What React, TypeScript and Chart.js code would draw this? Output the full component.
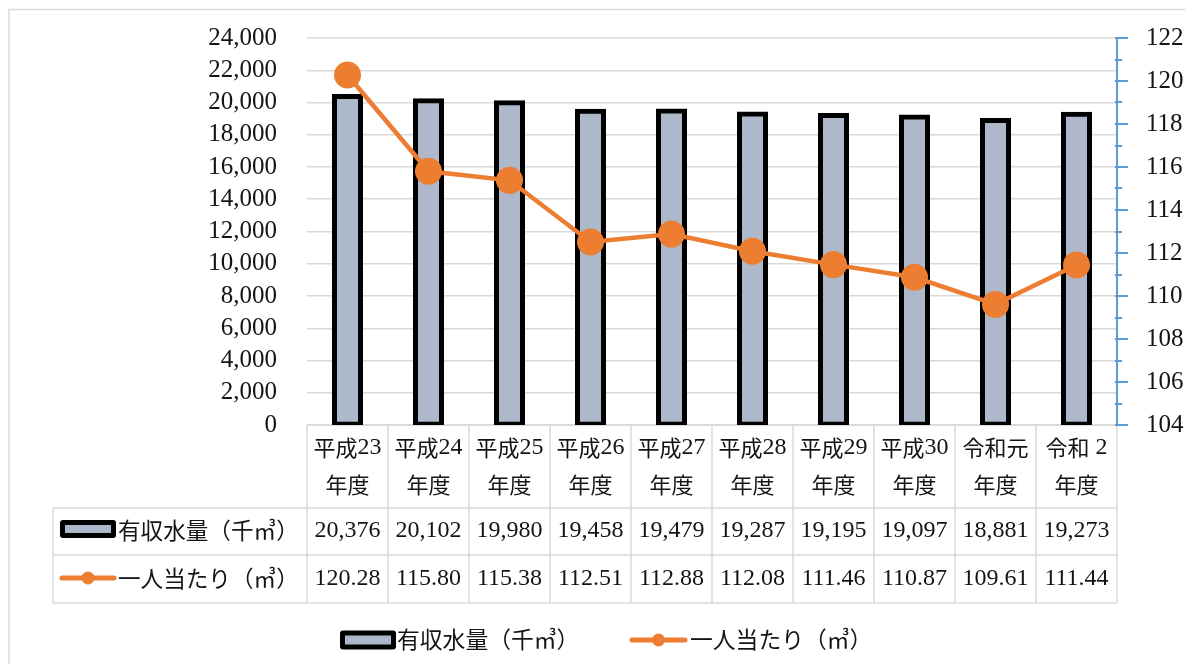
import React, { useEffect, useRef } from 'react';
import { Chart, registerables } from 'chart.js';

Chart.register(...registerables);

// ---- data ----
const categoryLine1 = ['平成23', '平成24', '平成25', '平成26', '平成27', '平成28', '平成29', '平成30', '令和元', '令和 2'];
const categoryLine2 = ['年度', '年度', '年度', '年度', '年度', '年度', '年度', '年度', '年度', '年度'];
const volume = [20376, 20102, 19980, 19458, 19479, 19287, 19195, 19097, 18881, 19273];
const perCapita = [120.28, 115.8, 115.38, 112.51, 112.88, 112.08, 111.46, 110.87, 109.61, 111.44];
const volumeLabel = '有収水量（千㎥）';
const perCapitaLabel = '一人当たり（㎥）';
const leftTicks = [0, 2000, 4000, 6000, 8000, 10000, 12000, 14000, 16000, 18000, 20000, 22000, 24000];
const rightTicks = [104, 106, 108, 110, 112, 114, 116, 118, 120, 122];

// ---- styles ----
const BAR_FILL = '#ADB9CA';
const BAR_EDGE = '#000000';
const LINE_COLOR = '#ED7D31';
const AXIS_BLUE = '#5B9BD5';
const GRID = '#D9D9D9';
const TEXT = '#141414';
const LATIN = "'Liberation Serif', 'DejaVu Serif', serif";
const CJK = "'Noto Sans CJK JP', 'Noto Sans CJK SC', sans-serif";

const CJK_RE = /[\u2E80-\u9FFF\u3000-\u303F\u3300-\u33FF\uFF00-\uFFEF]/;

function drawMixed(
  ctx: CanvasRenderingContext2D,
  text: string,
  x: number,
  y: number,
  align: 'left' | 'center' | 'right',
  latinSize: number,
  cjkSize: number
) {
  const runs: { t: string; cjk: boolean }[] = [];
  for (const ch of text) {
    const c = CJK_RE.test(ch);
    if (runs.length && runs[runs.length - 1].cjk === c) runs[runs.length - 1].t += ch;
    else runs.push({ t: ch, cjk: c });
  }
  const fontFor = (c: boolean) => (c ? `${cjkSize}px ${CJK}` : `${latinSize}px ${LATIN}`);
  let total = 0;
  const widths = runs.map((r) => {
    ctx.font = fontFor(r.cjk);
    const w = ctx.measureText(r.t).width;
    total += w;
    return w;
  });
  let cx = align === 'left' ? x : align === 'center' ? x - total / 2 : x - total;
  ctx.save();
  ctx.textAlign = 'left';
  ctx.textBaseline = 'middle';
  ctx.fillStyle = TEXT;
  runs.forEach((r, i) => {
    ctx.font = fontFor(r.cjk);
    ctx.fillText(r.t, cx, y);
    cx += widths[i];
  });
  ctx.restore();
}

function drawBarIcon(ctx: CanvasRenderingContext2D, x: number, cy: number, w: number, h: number) {
  ctx.save();
  ctx.fillStyle = BAR_EDGE;
  const r = 3;
  const y = cy - h / 2;
  ctx.beginPath();
  ctx.moveTo(x + r, y);
  ctx.lineTo(x + w - r, y);
  ctx.quadraticCurveTo(x + w, y, x + w, y + r);
  ctx.lineTo(x + w, y + h - r);
  ctx.quadraticCurveTo(x + w, y + h, x + w - r, y + h);
  ctx.lineTo(x + r, y + h);
  ctx.quadraticCurveTo(x, y + h, x, y + h - r);
  ctx.lineTo(x, y + r);
  ctx.quadraticCurveTo(x, y, x + r, y);
  ctx.fill();
  ctx.fillStyle = BAR_FILL;
  ctx.fillRect(x + 5, y + 5, w - 10, h - 10);
  ctx.restore();
}

function drawLineIcon(ctx: CanvasRenderingContext2D, x: number, cy: number, w: number) {
  ctx.save();
  ctx.strokeStyle = LINE_COLOR;
  ctx.lineWidth = 5;
  ctx.lineCap = 'round';
  ctx.beginPath();
  ctx.moveTo(x + 2, cy);
  ctx.lineTo(x + w - 2, cy);
  ctx.stroke();
  ctx.fillStyle = LINE_COLOR;
  ctx.beginPath();
  ctx.arc(x + w / 2, cy, 6.5, 0, Math.PI * 2);
  ctx.fill();
  ctx.restore();
}

const tablePlugin = {
  id: 'dataTable',
  beforeDatasetsDraw(chart: any) {
    const ctx: CanvasRenderingContext2D = chart.ctx;
    const a = chart.chartArea;
    const n = categoryLine1.length;
    const colW = (a.right - a.left) / n;
    const tableLeft = 45;
    const headerBottom = 500;
    const row1Bottom = 547;
    const row2Bottom = 595;

    // axis labels
    const ys = chart.scales.y;
    const y1 = chart.scales.y1;
    leftTicks.forEach((v) => {
      drawMixed(ctx, v.toLocaleString('en-US'), a.left - 30, ys.getPixelForValue(v), 'right', 25, 22);
    });
    rightTicks.forEach((v) => {
      drawMixed(ctx, String(v), a.right + 29, y1.getPixelForValue(v), 'left', 25, 22);
    });

    ctx.save();
    ctx.strokeStyle = GRID;
    ctx.lineWidth = 1.5;
    ctx.beginPath();
    ctx.moveTo(a.left, a.bottom);
    ctx.lineTo(a.right, a.bottom);
    [headerBottom, row1Bottom, row2Bottom].forEach((yy) => {
      ctx.moveTo(tableLeft, yy);
      ctx.lineTo(a.right, yy);
    });
    for (let i = 0; i <= n; i++) {
      const xx = a.left + i * colW;
      ctx.moveTo(xx, a.bottom);
      ctx.lineTo(xx, row2Bottom);
    }
    ctx.moveTo(tableLeft, headerBottom);
    ctx.lineTo(tableLeft, row2Bottom);
    ctx.stroke();
    ctx.restore();

    const xs = chart.scales.x;
    for (let i = 0; i < n; i++) {
      const cx = xs.getPixelForValue(i);
      drawMixed(ctx, categoryLine1[i], cx, 440, 'center', 24, 22);
      drawMixed(ctx, categoryLine2[i], cx, 477, 'center', 24, 22);
      drawMixed(ctx, volume[i].toLocaleString('en-US'), cx, 523, 'center', 24, 22);
      drawMixed(ctx, perCapita[i].toFixed(2), cx, 571, 'center', 24, 22);
    }
    // row legends
    drawBarIcon(ctx, 52, 521, 56, 18);
    drawMixed(ctx, volumeLabel, 110, 522, 'left', 24, 22.6);
    drawLineIcon(ctx, 52, 570, 56);
    drawMixed(ctx, perCapitaLabel, 110, 570, 'left', 24, 22.6);

    // bottom legend
    drawBarIcon(ctx, 332, 632, 56, 19);
    drawMixed(ctx, volumeLabel, 389, 631, 'left', 24, 22.8);
    drawLineIcon(ctx, 622, 632, 57);
    drawMixed(ctx, perCapitaLabel, 682, 631, 'left', 24, 22.8);
  },
  afterDraw(chart: any) {
    const ctx: CanvasRenderingContext2D = chart.ctx;
    const a = chart.chartArea;
    const y1 = chart.scales.y1;
    ctx.save();
    ctx.strokeStyle = AXIS_BLUE;
    ctx.lineWidth = 2;
    ctx.beginPath();
    ctx.moveTo(a.right, a.top);
    ctx.lineTo(a.right, a.bottom);
    const lo = rightTicks[0];
    const hi = rightTicks[rightTicks.length - 1];
    for (let v = lo; v <= hi; v += 1) {
      const yy = Math.round(y1.getPixelForValue(v));
      const len = rightTicks.includes(v) ? 11 : 5;
      ctx.moveTo(a.right - 2, yy);
      ctx.lineTo(a.right + len, yy);
    }
    ctx.stroke();
    // outer frame
    ctx.strokeStyle = GRID;
    ctx.lineWidth = 1.5;
    ctx.beginPath();
    ctx.moveTo(1, chart.height);
    ctx.lineTo(1, 1.5);
    ctx.lineTo(chart.width, 1.5);
    ctx.stroke();
    ctx.restore();
  },
};

export default function App() {
  const ref = useRef<HTMLCanvasElement | null>(null);

  useEffect(() => {
    if (!ref.current) return;
    const labels = categoryLine1.map((c, i) => c + categoryLine2[i]);
    const chart = new Chart(ref.current, {
      type: 'bar',
      data: {
        labels,
        datasets: [
          {
            type: 'line',
            label: perCapitaLabel,
            data: perCapita,
            yAxisID: 'y1',
            borderColor: LINE_COLOR,
            backgroundColor: LINE_COLOR,
            borderWidth: 4.5,
            pointRadius: 13.5,
            pointHoverRadius: 13.5,
            pointBackgroundColor: LINE_COLOR,
            pointBorderWidth: 0,
            tension: 0,
            order: 0,
          } as any,
          {
            type: 'bar',
            label: volumeLabel,
            data: volume,
            yAxisID: 'y',
            backgroundColor: BAR_FILL,
            borderColor: BAR_EDGE,
            borderWidth: 5,
            borderSkipped: false,
            inflateAmount: 2.5,
            categoryPercentage: 1,
            barPercentage: 0.321,
            order: 1,
          } as any,
        ],
      },
      options: {
        responsive: false,
        animation: false,
        devicePixelRatio: 1,
        layout: { padding: { top: 30, bottom: 239, left: 0, right: 0 } },
        plugins: {
          legend: { display: false },
          tooltip: { enabled: false },
          title: { display: false },
        },
        scales: {
          x: {
            type: 'category',
            offset: true,
            display: false,
          },
          y: {
            position: 'left',
            min: leftTicks[0],
            max: leftTicks[leftTicks.length - 1],
            grid: { color: GRID, lineWidth: 1.5, drawTicks: false },
            border: { display: false },
            ticks: { stepSize: leftTicks[1] - leftTicks[0], display: false, autoSkip: false },
            afterFit: (s: any) => {
              s.width = 299;
              s.paddingTop = 0;
              s.paddingBottom = 0;
            },
          },
          y1: {
            position: 'right',
            min: rightTicks[0],
            max: rightTicks[rightTicks.length - 1],
            grid: { display: false, drawTicks: false },
            border: { display: false },
            ticks: { stepSize: rightTicks[1] - rightTicks[0], display: false, autoSkip: false },
            afterFit: (s: any) => {
              s.width = 68;
              s.paddingTop = 0;
              s.paddingBottom = 0;
            },
          },
        },
      } as any,
      plugins: [tablePlugin],
    });
    return () => chart.destroy();
  }, []);

  return (
    <div style={{ width: 1177, height: 656, position: 'relative' }}>
      <canvas ref={ref} width={1177} height={656} style={{ display: 'block' }} />
    </div>
  );
}
